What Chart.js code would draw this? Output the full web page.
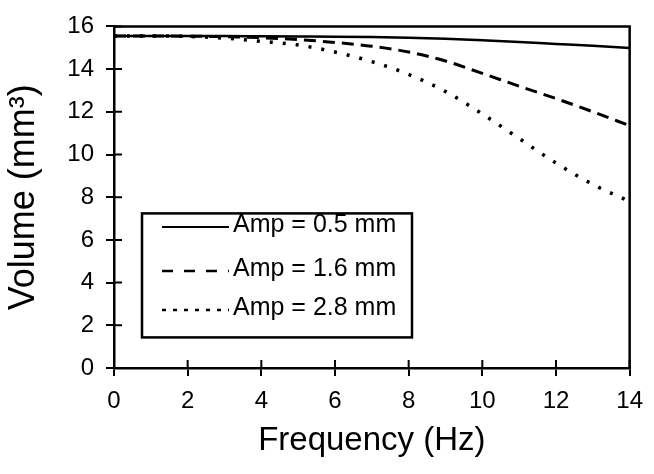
<!DOCTYPE html>
<html>
<head>
<meta charset="utf-8">
<script src="https://cdn.jsdelivr.net/npm/chart.js@4/dist/chart.umd.min.js"></script>
<style>
  html, body { margin: 0; padding: 0; background: #fff; }
  canvas { display: block; }
</style>
</head>
<body>
<canvas id="volume-chart" width="654" height="474"></canvas>
<script>
// values
const frequency = [0, 1, 2, 3, 4, 5, 6, 7, 8, 9, 10, 11, 12, 13, 14];
const amp05 = [15.55, 15.55, 15.55, 15.55, 15.54, 15.53, 15.52, 15.5, 15.47, 15.42, 15.35, 15.27, 15.18, 15.09, 14.99];
const amp16 = [15.55, 15.55, 15.54, 15.52, 15.47, 15.38, 15.25, 15.07, 14.8, 14.38, 13.8, 13.2, 12.62, 12.0, 11.35];
const amp28 = [15.55, 15.55, 15.53, 15.45, 15.3, 15.13, 14.8, 14.35, 13.75, 12.95, 11.9, 10.75, 9.6, 8.6, 7.8];
const seriesLabels = ['Amp = 0.5 mm', 'Amp = 1.6 mm', 'Amp = 2.8 mm'];

const FONT = 'Liberation Sans, Arial, Helvetica, sans-serif';

const toPoints = (ys) => frequency.map((x, i) => ({ x: x, y: ys[i] }));

// box round the plot plus ticks that also poke inside
const framePlugin = {
    id: 'frame',
    afterDraw(chart) {
        const { ctx, chartArea: a, scales } = chart;
        ctx.save();
        ctx.strokeStyle = '#000';
        ctx.lineWidth = 2.5;
        ctx.beginPath();
        ctx.moveTo(a.left, a.top);
        ctx.lineTo(a.right, a.top);
        ctx.lineTo(a.right, a.bottom);
        ctx.stroke();
        ctx.lineWidth = 2;
        ctx.beginPath();
        scales.x.ticks.forEach(t => {
            const px = scales.x.getPixelForValue(t.value);
            ctx.moveTo(px, a.bottom);
            ctx.lineTo(px, a.bottom - 8);
        });
        scales.y.ticks.forEach(t => {
            const py = scales.y.getPixelForValue(t.value);
            ctx.moveTo(a.left, py);
            ctx.lineTo(a.left + 8, py);
        });
        ctx.stroke();
        ctx.restore();
    }
};

// legend drawn inside the plot, boxed
const boxLegend = {
    id: 'boxLegend',
    afterDraw(chart) {
        const { ctx, chartArea: a } = chart;
        const left = a.left + 28, top = a.top + 187, w = 270, h = 124;
        const rows = [224, 268, 307];
        const dashes = [[], [11, 11], [4, 7]];
        ctx.save();
        ctx.strokeStyle = '#000';
        ctx.lineWidth = 2.5;
        ctx.strokeRect(left, top, w, h);
        ctx.font = '25px ' + FONT;
        ctx.fillStyle = '#000';
        ctx.textBaseline = 'middle';
        chart.data.datasets.forEach((ds, i) => {
            const y = rows[i];
            ctx.beginPath();
            ctx.lineWidth = i === 0 ? 2 : 2.5;
            ctx.setLineDash(dashes[i]);
            ctx.moveTo(left + 20, y + 3);
            ctx.lineTo(left + 87, y + 3);
            ctx.stroke();
            ctx.setLineDash([]);
            ctx.fillText(ds.label, left + 91, y + 1);
        });
        ctx.restore();
    }
};

const ctx = document.getElementById('volume-chart').getContext('2d');
const volumeChart = new Chart(ctx, {
    type: 'line',
    data: {
        datasets: [
            {
                label: seriesLabels[0],
                data: toPoints(amp05),
                borderColor: '#000',
                borderWidth: 2.5,
            },
            {
                label: seriesLabels[1],
                data: toPoints(amp16),
                borderColor: '#000',
                borderWidth: 3,
                borderDash: [12, 7],
            },
            {
                label: seriesLabels[2],
                data: toPoints(amp28),
                borderColor: '#000',
                borderWidth: 3.5,
                borderDash: [3, 10],
            },
        ],
    },
    options: {
        responsive: false,
        animation: false,
        layout: { padding: { left: 0, right: 15, top: 22, bottom: 0 } },
        elements: {
            point: { radius: 0 },
            line: { cubicInterpolationMode: 'monotone', fill: false },
        },
        plugins: {
            legend: { display: false },
            tooltip: { enabled: false },
        },
        scales: {
            x: {
                type: 'linear',
                min: 0,
                max: 14,
                ticks: {
                    stepSize: 2,
                    color: '#000',
                    padding: 11,
                    maxRotation: 0,
                    font: { family: FONT, size: 24 },
                },
                grid: { drawOnChartArea: false, color: '#000', lineWidth: 2, tickLength: 8 },
                border: { color: '#000', width: 2.5 },
                title: {
                    display: true,
                    text: 'Frequency (Hz)',
                    color: '#000',
                    font: { family: FONT, size: 33 },
                    padding: { top: 0, bottom: 13 },
                },
                afterFit(scale) { scale.height = 106; },
            },
            y: {
                min: 0,
                max: 16,
                ticks: {
                    stepSize: 2,
                    color: '#000',
                    padding: 12,
                    font: { family: FONT, size: 24 },
                },
                grid: { drawOnChartArea: false, color: '#000', lineWidth: 2, tickLength: 8 },
                border: { color: '#000', width: 2.5 },
                title: {
                    display: true,
                    text: 'Volume (mm³)',
                    color: '#000',
                    font: { family: FONT, size: 36 },
                    padding: { top: 2, bottom: 0 },
                },
                afterFit(scale) { scale.width = 114; },
            },
        },
    },
    plugins: [framePlugin, boxLegend],
});
</script>
</body>
</html>
